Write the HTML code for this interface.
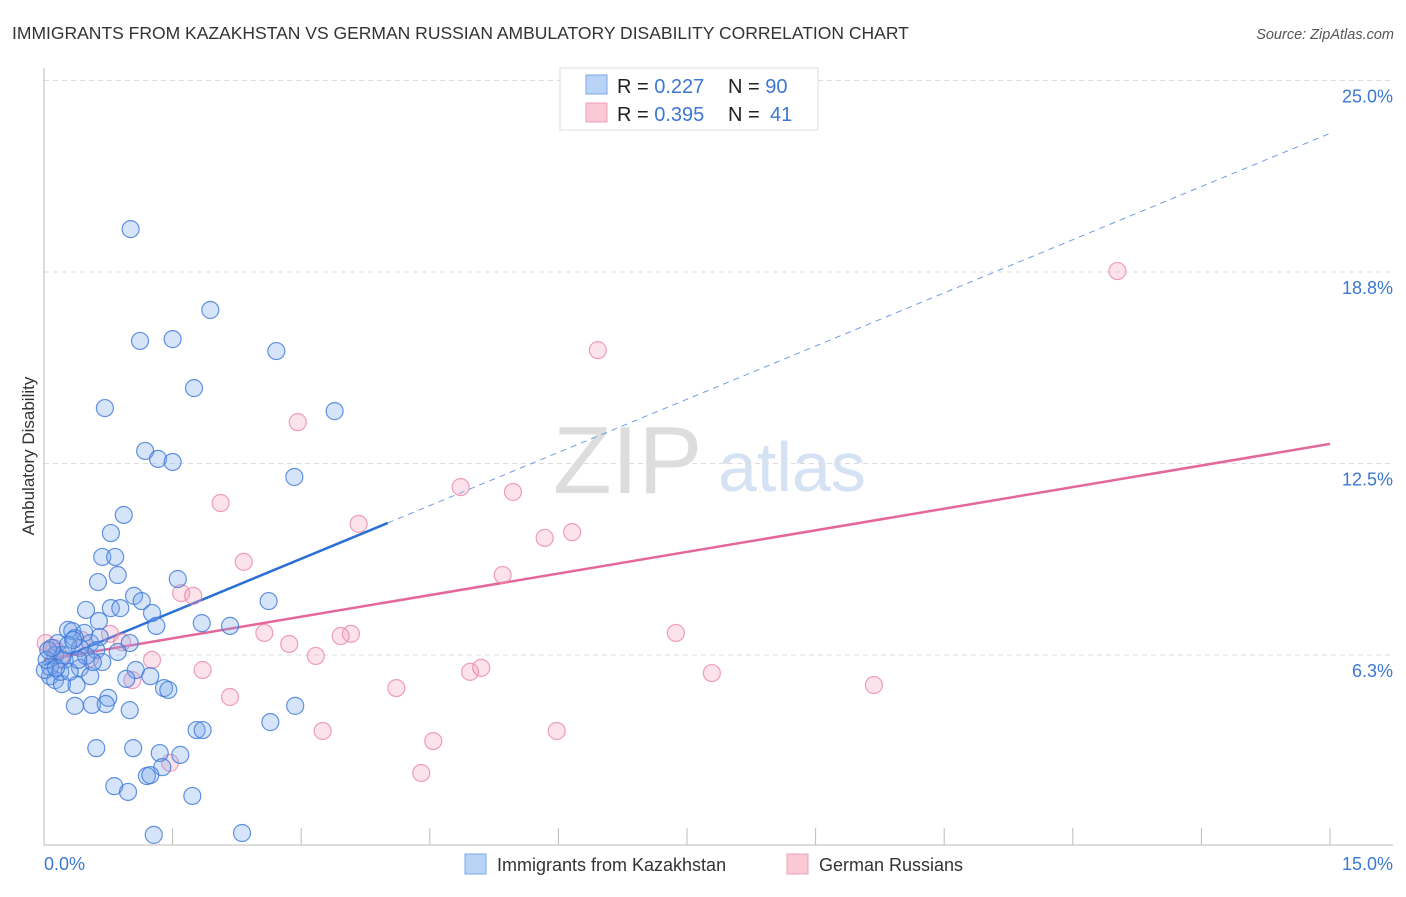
<!DOCTYPE html>
<html><head><meta charset="utf-8"><style>
body{margin:0;background:#fff;font-family:"Liberation Sans",sans-serif}
svg text{font-family:"Liberation Sans",sans-serif}
</style></head><body>
<svg width="1406" height="892" viewBox="0 0 1406 892">
<text x="12" y="39" font-size="17.5" fill="#333">IMMIGRANTS FROM KAZAKHSTAN VS GERMAN RUSSIAN AMBULATORY DISABILITY CORRELATION CHART</text>
<text x="1394" y="39" font-size="14.5" fill="#555" font-style="italic" text-anchor="end">Source: ZipAtlas.com</text>
<g>
<text x="553" y="493" font-size="96" fill="#ddd" font-family="Liberation Serif,serif">ZIP</text>
<text x="718" y="491" font-size="70" fill="#d4e2f4">atlas</text>
</g>
<g id="grid"></g>
<g id="axes"></g>
<text x="34" y="456" font-size="17" fill="#333" text-anchor="middle" transform="rotate(-90 34 456)">Ambulatory Disability</text>
<g id="lines"></g>
<g id="pts"></g>
<g>
<rect x="560" y="68" width="258" height="62" fill="#fff" stroke="#ddd"/>
<rect x="586" y="75" width="21" height="19" fill="#b9d3f6" stroke="#7aa7e4"/>
<rect x="586" y="103" width="21" height="19" fill="#fbc8d6" stroke="#eea0b8"/>
<text x="617" y="93" font-size="20" fill="#222">R = <tspan fill="#3b78d0">0.227</tspan><tspan x="728">N = </tspan><tspan fill="#3b78d0">90</tspan></text>
<text x="617" y="121" font-size="20" fill="#222">R = <tspan fill="#3b78d0">0.395</tspan><tspan x="728">N = </tspan><tspan fill="#3b78d0" x="770">41</tspan></text>
</g>
<g>
<rect x="465" y="854" width="21" height="20" fill="#b9d3f6" stroke="#7aa7e4"/>
<text x="497" y="871" font-size="18" fill="#333">Immigrants from Kazakhstan</text>
<rect x="787" y="854" width="21" height="20" fill="#fbc8d6" stroke="#eea0b8"/>
<text x="819" y="871" font-size="18" fill="#333">German Russians</text>
</g>
</svg>
<script>
const blueX=[1.01,1.12,1.50,1.94,2.71,1.75,0.71,3.39,1.18,1.33,1.50,2.92,0.93,0.78,0.68,0.83,0.86,0.63,1.56,1.05,1.14,2.62,0.49,0.78,0.89,1.26,1.31,1.84,2.17,0.64,0.28,0.33,0.47,0.36,0.16,0.54,1.00,0.42,0.61,0.13,0.24,0.68,0.86,0.42,0.54,1.07,1.24,0.96,0.07,0.13,0.21,0.38,0.75,1.40,1.45,0.36,0.56,0.72,1.00,2.64,2.93,0.61,1.04,1.35,1.59,1.78,1.85,1.38,1.20,1.24,0.82,0.98,1.73,1.28,2.31,0.05,0.07,0.01,0.19,0.30,0.03,0.22,0.49,0.57,0.28,0.34,0.65,0.14,0.09,0.40];
const blueY=[20.15,16.50,16.56,17.51,16.17,14.96,14.31,14.21,12.91,12.65,12.55,12.06,10.82,10.23,9.45,9.45,8.86,8.63,8.73,8.18,8.01,8.01,7.72,7.78,7.78,7.62,7.20,7.29,7.20,7.36,7.07,7.03,6.97,6.80,6.64,6.64,6.64,6.48,6.41,6.25,6.09,6.02,6.35,5.83,5.56,5.76,5.56,5.47,5.56,5.43,5.30,5.27,4.85,5.17,5.11,4.59,4.62,4.65,4.45,4.06,4.59,3.21,3.21,3.05,2.99,3.80,3.80,2.59,2.30,2.33,1.97,1.78,1.65,0.38,0.44,6.41,5.86,5.76,5.70,5.70,6.09,6.25,6.22,6.02,6.58,6.74,6.84,5.83,6.48,6.09];
const pinkX=[12.52,6.46,2.96,2.06,4.86,5.47,3.67,6.16,5.84,2.33,5.35,1.60,1.74,7.37,2.57,3.58,3.46,2.86,0.77,0.91,0.02,0.12,0.16,0.54,1.26,3.17,4.97,5.10,1.85,7.79,9.68,1.03,4.11,2.17,3.25,5.98,4.54,4.40,1.47,0.19,0.44];
const pinkY=[18.78,16.20,13.85,11.21,11.73,11.57,10.53,10.26,10.07,9.29,8.86,8.27,8.18,6.97,6.97,6.94,6.87,6.61,6.94,6.67,6.64,6.48,6.35,6.15,6.09,6.22,5.70,5.83,5.76,5.66,5.27,5.43,5.17,4.88,3.77,3.77,3.44,2.40,2.73,6.09,6.74];
const yTicks=[6.3,12.5,18.8,25.0];
const yTickVals=[6.25,12.5,18.75,25];
const xTickVals=[0,1.5,3,4.5,6,7.5,9,10.5,12,13.5,15];
const blueTrend=[5.92,1.157]; // intercept, slope
const pinkTrend=[6.09,0.47];
const blueSolidEnd=4.01;

const X=v=>44+v/15*1286, Y=v=>846.5-v/6.25*191.5;
const NS='http://www.w3.org/2000/svg';
function mk(tag,parent,attrs){const e=document.createElementNS(NS,tag);for(const k in attrs)e.setAttribute(k,attrs[k]);document.getElementById(parent).appendChild(e);return e;}
yTicks.forEach((t,i)=>{
  const l=mk('line','grid',{x1:44,x2:1393,y1:Y(yTickVals[i]),y2:Y(yTickVals[i]),stroke:'#ddd','stroke-dasharray':'5,4'});
  
  
  const tx=mk('text','grid',{x:1393,y:Y(yTickVals[i])+22,'font-size':18,fill:'#3b78d0','text-anchor':'end'});
  tx.textContent=t.toFixed(1)+'%';
  
  
});
let a=mk('line','axes',{x1:44,x2:44,y1:68,y2:845,stroke:'#bbb'});


a=mk('line','axes',{x1:44,x2:1393,y1:845,y2:845,stroke:'#bbb'});


xTickVals.forEach(v=>{
  const t=mk('line','axes',{x1:X(v),x2:X(v),y1:828,y2:845,stroke:'#bbb'});
  
  
});
let xl=mk('text','axes',{x:44,y:870,'font-size':18,fill:'#3b78d0'});xl.textContent=xTickVals[0].toFixed(1)+'%';


xl=mk('text','axes',{x:1393,y:870,'font-size':18,fill:'#3b78d0','text-anchor':'end'});xl.textContent=xTickVals[xTickVals.length-1].toFixed(1)+'%';



function dot(x,y,f,s,n){const c=mk('circle','pts',{cx:X(x),cy:Y(y),r:8.5,fill:f,stroke:s,'stroke-width':1.2});
  
  }
pinkX.forEach((x,i)=>dot(x,pinkY[i],'rgba(244,160,186,0.3)','rgba(232,130,165,0.75)','point-german-russians'));
blueX.forEach((x,i)=>dot(x,blueY[i],'rgba(120,165,235,0.3)','rgba(60,120,215,0.8)','point-kazakhstan'));
const by=v=>blueTrend[0]+blueTrend[1]*v, py=v=>pinkTrend[0]+pinkTrend[1]*v;
let l=mk('line','lines',{x1:X(0),y1:Y(by(0)),x2:X(blueSolidEnd),y2:Y(by(blueSolidEnd)),stroke:'#2a6fd6','stroke-width':2.5});


l=mk('line','lines',{x1:X(blueSolidEnd),y1:Y(by(blueSolidEnd)),x2:X(15),y2:Y(by(15)),stroke:'#6f9ee0','stroke-width':1,'stroke-dasharray':'6,5'});


l=mk('line','lines',{x1:X(0),y1:Y(py(0)),x2:X(15),y2:Y(py(15)),stroke:'#e4679a','stroke-width':2.5});


</script>
</body></html>
